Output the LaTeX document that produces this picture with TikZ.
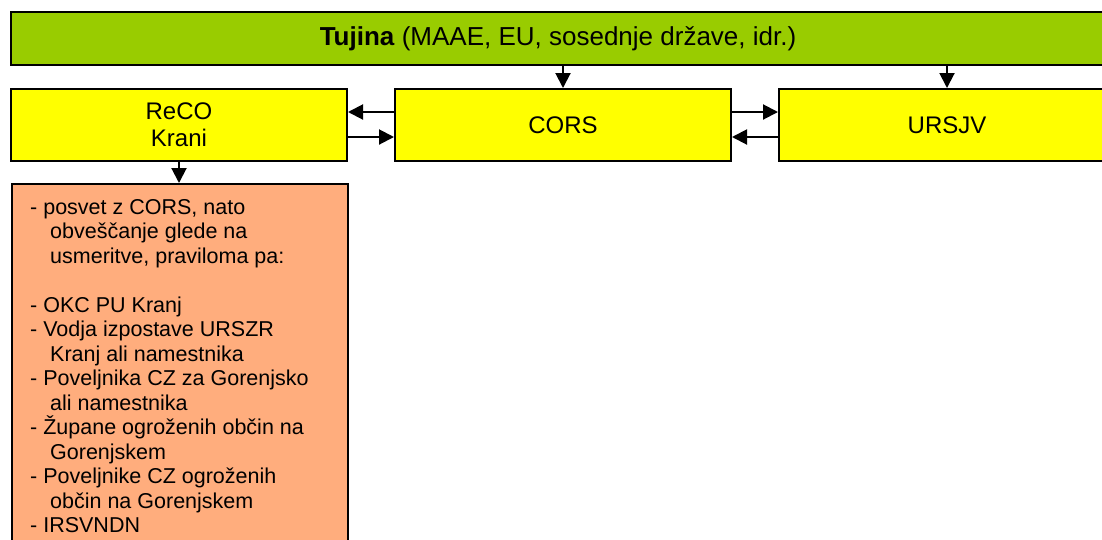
\documentclass[tikz,border=0pt]{standalone}
\usepackage{fontspec}
\setmainfont{Liberation Sans}
\usetikzlibrary{arrows.meta}
\definecolor{tgreen}{HTML}{99CC00}
\definecolor{tyellow}{HTML}{FFFF00}
\definecolor{torange}{HTML}{FFAD7D}
\begin{document}
\begin{tikzpicture}[x=1pt,y=-1pt,
  box/.style={draw=black,line width=2pt,rectangle,inner sep=0pt,align=center,
    font=\fontsize{24}{27}\selectfont},
  arr/.style={line width=2pt,-{Triangle[length=15pt,width=15pt]}}]
\useasboundingbox (0,0) rectangle (1102,539);
\clip (0,0) rectangle (1102,539);
\node[box,fill=tgreen,minimum width=1094pt,minimum height=53pt,font=\fontsize{26}{30}\selectfont] (tujina) at (558,38.5)
  {\textbf{Tujina} (MAAE, EU, sosednje države, idr.)};
\node[box,fill=tyellow,minimum width=336pt,minimum height=72pt] (reco) at (179,125) {ReCO\\Krani};
\node[box,fill=tyellow,minimum width=336pt,minimum height=72pt] (cors) at (563,125) {CORS};
\node[box,fill=tyellow,minimum width=336pt,minimum height=72pt] (ursjv) at (947,125) {URSJV};
\node[box,fill=torange,minimum width=336pt,minimum height=400pt,anchor=north west] (info) at (11,183) {};
\node[anchor=north west,inner sep=0pt,align=left,font=\fontsize{21.5}{24.5}\selectfont] (infotext) at (30,199)
  {- posvet z CORS, nato\\
   \hspace*{20pt}obveščanje glede na\\
   \hspace*{20pt}usmeritve, praviloma pa:\\[24.5pt]
   - OKC PU Kranj\\
   - Vodja izpostave URSZR\\
   \hspace*{20pt}Kranj ali namestnika\\
   - Poveljnika CZ za Gorenjsko\\
   \hspace*{20pt}ali namestnika\\
   - Župane ogroženih občin na\\
   \hspace*{20pt}Gorenjskem\\
   - Poveljnike CZ ogroženih\\
   \hspace*{20pt}občin na Gorenjskem\\
   - IRSVNDN};
\draw[arr] (tujina.south -| cors.north) -- (cors.north);
\draw[arr] (tujina.south -| ursjv.north) -- (ursjv.north);
\draw[arr] (reco.south) -- (info.north -| reco.south);
\draw[arr] (cors.west |- 0,112) -- (reco.east |- 0,112);
\draw[arr] (reco.east |- 0,137) -- (cors.west |- 0,137);
\draw[arr] (cors.east |- 0,112) -- (ursjv.west |- 0,112);
\draw[arr] (ursjv.west |- 0,137) -- (cors.east |- 0,137);
\end{tikzpicture}
\end{document}
